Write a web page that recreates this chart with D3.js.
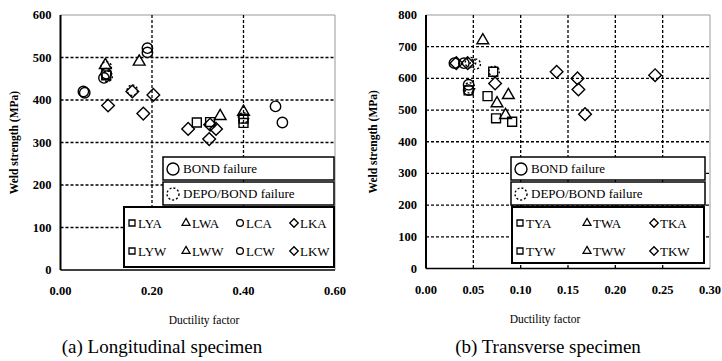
<!DOCTYPE html>
<html lang="en">
<head>
<meta charset="UTF-8">
<title>Weld strength vs ductility</title>
<script src="https://cdn.jsdelivr.net/npm/d3@7"></script>
<style>
    body { margin: 0; background: #fff; }
    svg text { font-family: "Liberation Serif", "Times New Roman", "DejaVu Serif", serif; fill: #000; }
    .tick_lbl { font-size: 12.5px; font-weight: bold; }
    .axis_title { font-size: 11.5px; }
    .ytitle { font-size: 11.5px; font-weight: bold; }
    .caption { font-size: 19px; }
    .leg { font-size: 13px; }
</style>
</head>
<body>
<svg width="722" height="361" font-family="Liberation Serif, serif"></svg>
<script>
    // ---- data (ductility factor, weld strength MPa) ----
    // (a) longitudinal
    const lya = [[0.298, 347], [0.327, 348]];
    const lyw = [[0.400, 356], [0.400, 346], [0.100, 458]];
    const lwa = [[0.172, 490], [0.349, 362]];
    const lww = [[0.098, 482], [0.400, 372]];
    const lca = [[0.050, 420], [0.100, 462], [0.190, 522], [0.470, 385]];
    const lcw = [[0.053, 417], [0.095, 452], [0.190, 512], [0.485, 347]];
    const lka = [[0.104, 387], [0.203, 412], [0.181, 368], [0.279, 332]];
    const lkw = [[0.157, 420], [0.327, 342], [0.340, 332], [0.325, 308]];
    const lDepo = [[0.100, 478], [0.157, 423], [0.102, 456], [0.400, 358]];

    // (b) transverse
    const tya = [[0.065, 544], [0.074, 474], [0.045, 562]];
    const tyw = [[0.071, 621], [0.091, 463]];
    const twa = [[0.060, 720], [0.087, 547]];
    const tww = [[0.075, 521], [0.084, 484]];
    const tka = [[0.073, 584], [0.138, 621], [0.160, 600], [0.242, 610], [0.032, 648]];
    const tkw = [[0.161, 565], [0.168, 487], [0.044, 648]];
    const tBond = [[0.030, 648], [0.040, 648], [0.045, 580], [0.045, 563]];
    const tDepo = [[0.047, 650], [0.052, 645], [0.046, 570], [0.072, 622]];

    const xTicksA = ["0.00", "0.20", "0.40", "0.60"];
    const yTicksA = [0, 100, 200, 300, 400, 500, 600];
    const xTicksB = ["0.00", "0.05", "0.10", "0.15", "0.20", "0.25", "0.30"];
    const yTicksB = [0, 100, 200, 300, 400, 500, 600, 700, 800];

    const legendA = [["sq", "LYA"], ["tri", "LWA"], ["cir", "LCA"], ["dia", "LKA"],
                     ["sq", "LYW"], ["tri", "LWW"], ["cir", "LCW"], ["dia", "LKW"]];
    const legendB = [["sq", "TYA"], ["tri", "TWA"], ["dia", "TKA"],
                     ["sq", "TYW"], ["tri", "TWW"], ["dia", "TKW"]];

    const svg = d3.select("svg");
    const serif = "Liberation Serif, Times New Roman, serif";

    function shape(kind, size) {
        if (kind === "sq" || kind === "dia") return d3.symbol(d3.symbolSquare, size)();
        if (kind === "tri") return d3.symbol(d3.symbolTriangle, size * 0.75)();
        return d3.symbol(d3.symbolCircle, size)();
    }

    function panel(cfg) {
        const g = svg.append("g").attr("font-family", serif);
        const x = d3.scaleLinear().domain([0, cfg.xmax]).range([cfg.left, cfg.right]);
        const y = d3.scaleLinear().domain([0, cfg.ymax]).range([cfg.bottom, cfg.top]);

        // frame (top / right faint)
        g.append("line").attr("x1", cfg.left).attr("x2", cfg.right).attr("y1", cfg.top).attr("y2", cfg.top)
            .attr("stroke", "#999").attr("stroke-width", 1);
        g.append("line").attr("x1", cfg.right).attr("x2", cfg.right).attr("y1", cfg.top).attr("y2", cfg.bottom)
            .attr("stroke", "#999").attr("stroke-width", 1);

        // grid
        g.selectAll(".hg").data(cfg.yTicks.slice(1, -1)).enter().append("line")
            .attr("x1", cfg.left).attr("x2", cfg.right)
            .attr("y1", d => y(d)).attr("y2", d => y(d))
            .attr("stroke", "#000").attr("stroke-width", 1.3).attr("stroke-dasharray", "3,2");
        g.selectAll(".vg").data(cfg.xTicks.slice(1, -1)).enter().append("line")
            .attr("x1", d => x(+d)).attr("x2", d => x(+d))
            .attr("y1", cfg.top).attr("y2", cfg.bottom)
            .attr("stroke", "#000").attr("stroke-width", 1.3).attr("stroke-dasharray", "3,2");

        // axes lines
        g.append("line").attr("x1", cfg.left).attr("x2", cfg.left).attr("y1", cfg.top).attr("y2", cfg.bottom)
            .attr("stroke", "#000").attr("stroke-width", 2);
        g.append("line").attr("x1", cfg.left).attr("x2", cfg.right).attr("y1", cfg.bottom).attr("y2", cfg.bottom)
            .attr("stroke", "#000").attr("stroke-width", 1.6);

        // tick labels
        g.selectAll(".yl").data(cfg.yTicks).enter().append("text").attr("class", "tick_lbl")
            .attr("x", cfg.left - 9).attr("y", d => y(d) + 4).attr("text-anchor", "end").text(d => d);
        g.selectAll(".xl").data(cfg.xTicks).enter().append("text").attr("class", "tick_lbl")
            .attr("x", d => x(+d)).attr("y", cfg.bottom + 25).attr("text-anchor", "middle").text(d => d);

        g.append("text").attr("class", "axis_title").attr("x", cfg.xTitleX).attr("y", cfg.bottom + 54)
            .attr("text-anchor", "middle").text("Ductility factor");
        g.append("text").attr("class", "ytitle")
            .attr("transform", `translate(${cfg.yTitleX},${(cfg.top + cfg.bottom) / 2}) rotate(-90)`)
            .attr("text-anchor", "middle").text("Weld strength (MPa)");
        g.append("text").attr("class", "caption").attr("x", cfg.capX).attr("y", 353)
            .attr("text-anchor", "middle").text(cfg.caption);

        // legend boxes
        const lb = cfg.leg;
        g.append("rect").attr("x", lb.x0).attr("y", lb.y0).attr("width", lb.w).attr("height", 23)
            .attr("fill", "#fff").attr("stroke", "#000").attr("stroke-width", 1.5);
        g.append("circle").attr("cx", lb.x0 + 10).attr("cy", lb.y0 + 12).attr("r", 6)
            .attr("fill", "none").attr("stroke", "#000").attr("stroke-width", 1.4);
        g.append("text").attr("class", "leg").attr("x", lb.x0 + 20).attr("y", lb.y0 + 16).text("BOND failure");
        g.append("rect").attr("x", lb.x0).attr("y", lb.y0 + 25).attr("width", lb.w).attr("height", 23)
            .attr("fill", "#fff").attr("stroke", "#000").attr("stroke-width", 1.5);
        g.append("circle").attr("cx", lb.x0 + 10).attr("cy", lb.y0 + 37).attr("r", 6)
            .attr("fill", "none").attr("stroke", "#000").attr("stroke-width", 1.4).attr("stroke-dasharray", "2,2");
        g.append("text").attr("class", "leg").attr("x", lb.x0 + 20).attr("y", lb.y0 + 41).text("DEPO/BOND failure");

        g.append("rect").attr("x", lb.sx).attr("y", lb.y0 + 50).attr("width", lb.sw).attr("height", lb.sh)
            .attr("fill", "#fff").attr("stroke", "#000").attr("stroke-width", 2);
        const cols = cfg.legend.length / 2;
        cfg.legend.forEach((d, i) => {
            const cx = lb.sx + 8 + (i % cols) * lb.colW;
            const cy = lb.y0 + 50 + (i < cols ? 17 : 45);
            g.append("path").attr("d", shape(d[0], 36))
                .attr("transform", `translate(${cx},${cy - 1})` + (d[0] === "dia" ? " rotate(45)" : ""))
                .attr("fill", "none").attr("stroke", "#000").attr("stroke-width", 1.3);
            g.append("text").attr("class", "leg").attr("x", cx + 6).attr("y", cy + 4).text(d[1]);
        });

        // points
        cfg.series.forEach(s => {
            g.append("g").selectAll("path").data(s.data).enter().append("path")
                .attr("d", shape(s.kind, s.kind === "cir" ? 85 : 80))
                .attr("transform", d => `translate(${x(d[0])},${y(d[1])})` + (s.kind === "dia" ? " rotate(45)" : ""))
                .attr("fill", "none").attr("stroke", "#000").attr("stroke-width", 1.4)
                .attr("stroke-dasharray", s.dash ? "2,2" : null);
        });
        return g;
    }

    panel({
        left: 60.5, right: 335, top: 15, bottom: 270, xmax: 0.6, ymax: 600,
        xTicks: xTicksA, yTicks: yTicksA, xTitleX: 204, yTitleX: 18, capX: 162,
        caption: "(a) Longitudinal specimen",
        leg: {x0: 163, y0: 157, w: 171, sx: 124, sw: 210, sh: 60, colW: 54},
        legend: legendA,
        series: [
            {data: lya, kind: "sq"}, {data: lyw, kind: "sq"},
            {data: lwa, kind: "tri"}, {data: lww, kind: "tri"},
            {data: lca, kind: "cir"}, {data: lcw, kind: "cir"},
            {data: lka, kind: "dia"}, {data: lkw, kind: "dia"},
            {data: lDepo, kind: "cir", dash: true}
        ]
    });

    panel({
        left: 426, right: 710, top: 15, bottom: 268.5, xmax: 0.3, ymax: 800,
        xTicks: xTicksB, yTicks: yTicksB, xTitleX: 545, yTitleX: 377, capX: 548,
        caption: "(b) Transverse specimen",
        leg: {x0: 511, y0: 157, w: 194, sx: 512, sw: 192, sh: 56, colW: 67},
        legend: legendB,
        series: [
            {data: tya, kind: "sq"}, {data: tyw, kind: "sq"},
            {data: twa, kind: "tri"}, {data: tww, kind: "tri"},
            {data: tka, kind: "dia"}, {data: tkw, kind: "dia"},
            {data: tBond, kind: "cir"},
            {data: tDepo, kind: "cir", dash: true}
        ]
    });
</script>
</body>
</html>
